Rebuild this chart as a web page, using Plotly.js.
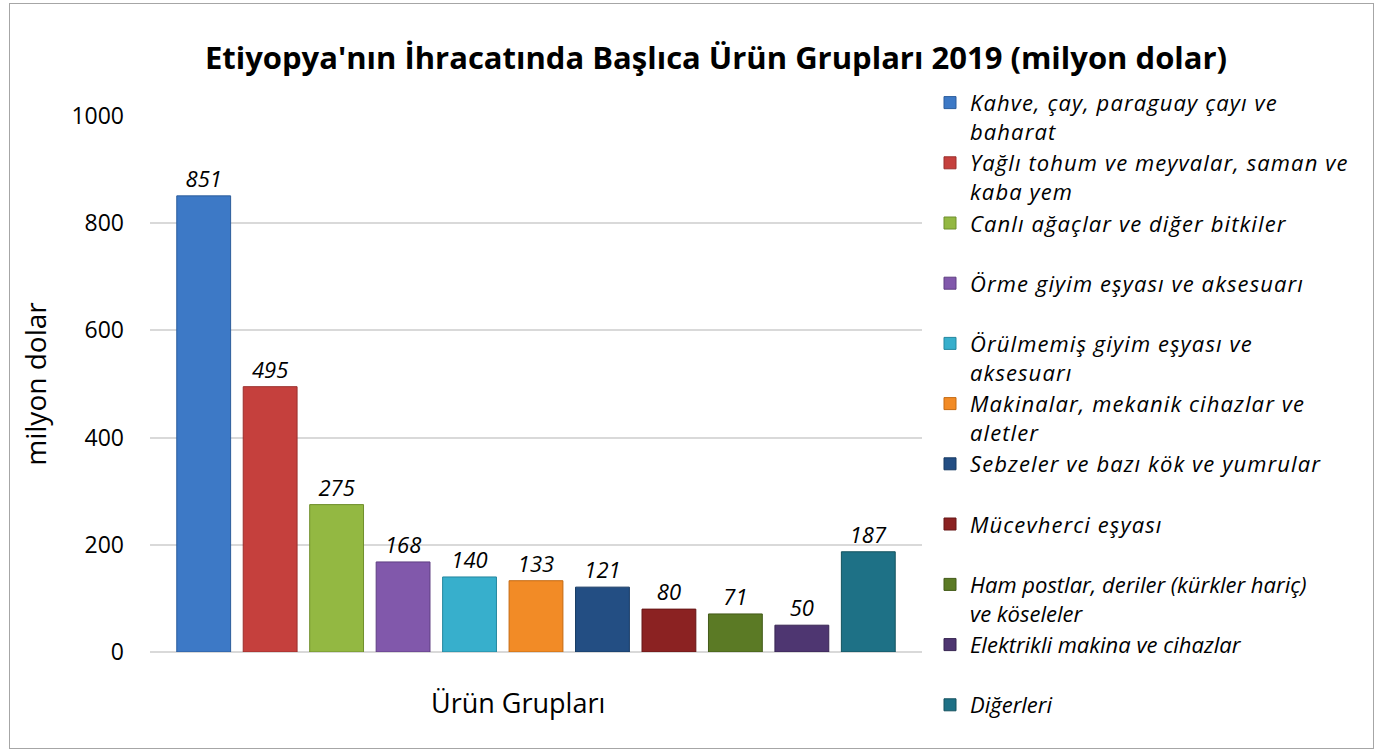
<!DOCTYPE html>
<html>
<head>
<meta charset="utf-8">
<script src="https://cdn.plot.ly/plotly-3.0.1.min.js"></script>
<style>
  html, body { margin: 0; padding: 0; background: #ffffff; }
  #chart { width: 1378px; height: 749px; position: absolute; left: 0; top: 0; }
  #frame { position: absolute; left: 9px; top: 3px; width: 1363px; height: 744px;
           border: 1px solid #a6a6a6; pointer-events: none; }
  .legendtext { letter-spacing: 1.1px; }
</style>
</head>
<body>
<div id="chart"></div>
<div id="frame"></div>
<script>
const chartTitle = "Etiyopya'nın İhracatında Başlıca Ürün Grupları 2019 (milyon dolar)";
const categoryLabel = "Ürün Grupları";
const yAxisLabel = "milyon dolar";
const seriesNames = [
  "Kahve, çay, paraguay çayı ve<br>baharat",
  "Yağlı tohum ve meyvalar, saman ve<br>kaba yem",
  "Canlı ağaçlar ve diğer bitkiler<br> ",
  "Örme giyim eşyası ve aksesuarı<br> ",
  "Örülmemiş giyim eşyası ve<br>aksesuarı",
  "Makinalar, mekanik cihazlar ve<br>aletler",
  "Sebzeler ve bazı kök ve yumrular<br> ",
  "Mücevherci eşyası<br> ",
  "Ham postlar, deriler (kürkler hariç)<br>ve köseleler",
  "Elektrikli makina ve cihazlar<br> ",
  "Diğerleri"
];
const seriesValues = [851, 495, 275, 168, 140, 133, 121, 80, 71, 50, 187];
const seriesColors = ["#3d79c6", "#c5403d", "#93b842", "#8158ab", "#37afcc", "#f28b26",
                      "#234e83", "#8b2222", "#5b7a25", "#4e3671", "#1e7186"];
const lineColors = ["#2c5d9c", "#9a2e2c", "#6f8f2c", "#5f3f82", "#24879f", "#c56a12",
                    "#173a63", "#661616", "#425a18", "#372552", "#14525f"];
const legendOf = ["legend", "legend", "legend", "legend", "legend", "legend", "legend", "legend",
                  "legend2", "legend2", "legend2"];
const yTicks = [0, 200, 400, 600, 800, 1000];

const FONT = "'Open Sans', Lato, sans-serif";

const traces = seriesNames.map((name, i) => ({
  type: "bar",
  name: name,
  legend: legendOf[i],
  x: [categoryLabel],
  y: [seriesValues[i]],
  text: [String(seriesValues[i])],
  textposition: "outside",
  cliponaxis: false,
  textfont: { family: FONT, size: 22, color: "#000000", style: "italic" },
  marker: { color: seriesColors[i], line: { color: lineColors[i], width: 1 } },
  hoverinfo: "name+y"
}));

// plot area: top 116px, height 536px; legend item height = 2 lines * 1.3 * 22 + 3
const plotTop = 116, plotH = 536, legendTop = 82, itemH = 2 * 1.3 * 22 + 3;
const legend1H = 8 * itemH + 10;
const legendX = (930 - 150) / 772;
const legendFont = { family: FONT, size: 22, color: "#000000", style: "italic" };

const layout = {
  width: 1378,
  height: 749,
  paper_bgcolor: "#ffffff",
  plot_bgcolor: "#ffffff",
  margin: { l: 150, r: 456, t: 116, b: 97, pad: 0, autoexpand: false },
  font: { family: FONT, color: "#000000" },
  title: {
    text: "<b>" + chartTitle + "</b>",
    font: { family: FONT, size: 31, color: "#000000" },
    x: 716 / 1378, xanchor: "center", xref: "container",
    y: 1 - 58 / 749, yanchor: "middle", yref: "container"
  },
  barmode: "group",
  bargap: 0.053,
  bargroupgap: 0.19,
  showlegend: true,
  legend: {
    x: legendX, xanchor: "left",
    y: 1 - (legendTop + legend1H / 2 - plotTop) / plotH, yanchor: "middle",
    valign: "top",
    traceorder: "normal",
    font: legendFont,
    bgcolor: "rgba(0,0,0,0)"
  },
  legend2: {
    x: legendX, xanchor: "left",
    y: 1 - (legendTop + 8 * itemH - plotTop) / plotH, yanchor: "top",
    valign: "top",
    traceorder: "normal",
    font: legendFont,
    bgcolor: "rgba(0,0,0,0)"
  },
  xaxis: {
    type: "category",
    showticklabels: false,
    showgrid: false,
    zeroline: false,
    showline: false,
    ticks: ""
  },
  yaxis: {
    range: [0, 1000],
    tickvals: yTicks,
    ticktext: yTicks.map(String),
    tickfont: { family: FONT, size: 23, color: "#000000" },
    ticks: "",
    ticklabelstandoff: 25,
    showgrid: true,
    gridcolor: "#d9d9d9",
    gridwidth: 2,
    zeroline: true,
    zerolinecolor: "#d9d9d9",
    zerolinewidth: 2,
    showline: false,
    title: {
      text: yAxisLabel,
      font: { family: FONT, size: 28, color: "#000000" },
      standoff: 16
    }
  },
  annotations: [{
    text: categoryLabel,
    xref: "paper", yref: "paper",
    x: (518 - 150) / 772, y: -(702 - 652) / 536,
    xanchor: "center", yanchor: "middle",
    showarrow: false,
    font: { family: FONT, size: 27, color: "#000000" }
  }]
};

Plotly.newPlot("chart", traces, layout, { displayModeBar: false, responsive: false });
</script>
</body>
</html>
